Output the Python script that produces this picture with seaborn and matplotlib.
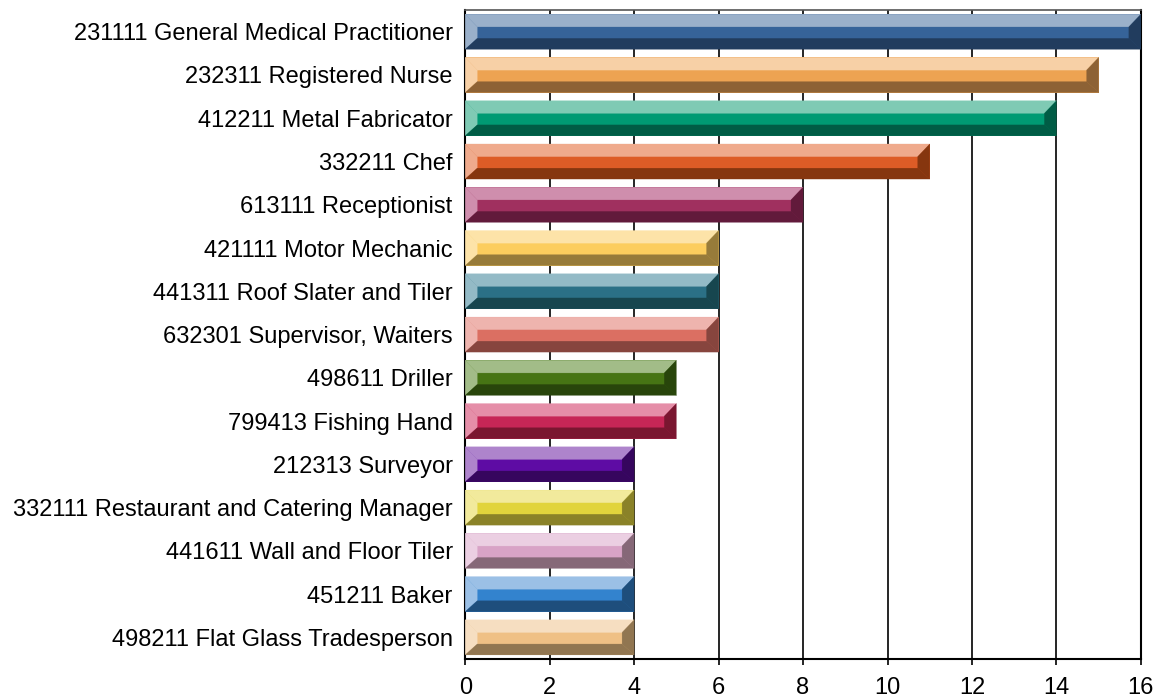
import matplotlib
matplotlib.use("Agg")
import matplotlib.pyplot as plt
import seaborn as sns
import pandas as pd
from matplotlib.patches import Polygon

occupations = [
    "231111 General Medical Practitioner",
    "232311 Registered Nurse",
    "412211 Metal Fabricator",
    "332211 Chef",
    "613111 Receptionist",
    "421111 Motor Mechanic",
    "441311 Roof Slater and Tiler",
    "632301 Supervisor, Waiters",
    "498611 Driller",
    "799413 Fishing Hand",
    "212313 Surveyor",
    "332111 Restaurant and Catering Manager",
    "441611 Wall and Floor Tiler",
    "451211 Baker",
    "498211 Flat Glass Tradesperson",
]
counts = [16, 15, 14, 11, 8, 6, 6, 6, 5, 5, 4, 4, 4, 4, 4]

# face / light bevel / dark bevel colours for each bar
mid_colors = ["#366399", "#EDA352", "#009A73", "#DD5C26", "#A0305F",
              "#FCCD5E", "#2B7086", "#DB6F62", "#467414", "#C62656",
              "#5E0CA4", "#E1D43C", "#D8A3C6", "#3383CE", "#EFC085"]
light_colors = ["#9AB0CA", "#F7D0A6", "#7FCAB4", "#EFAA8C", "#CF8EAD",
                "#FDE3A8", "#93BAC6", "#EEB4AE", "#A2BC88", "#E58EA8",
                "#AE84CC", "#F2EA9C", "#EBCFE2", "#9BC0E6", "#F6DEC1"]
dark_colors = ["#213C5E", "#8D6235", "#005C45", "#86360F", "#621A3B",
               "#977B3A", "#17464F", "#87453E", "#28450B", "#7A1630",
               "#36065E", "#8A8228", "#866878", "#1E4E7C", "#917651"]

df = pd.DataFrame({"occupation": occupations, "count": counts})

fig = plt.figure(figsize=(11.63, 6.97), dpi=100)
ax = fig.add_axes([0.4, 0.0545, 0.581, 0.931])
sns.set_style("white")
plt.rcParams["font.family"] = ["Liberation Sans", "DejaVu Sans"]

ax.set_axisbelow(True)
ax.grid(axis="x", color="black", linewidth=1.2)
sns.barplot(data=df, x="count", y="occupation", hue="occupation",
            palette=mid_colors, saturation=1, width=0.81, linewidth=0,
            legend=False, ax=ax, zorder=2)

ax.set_xlim(0, 16)
ax.set_ylim(14.5, -0.5)
ax.set_xticks(range(0, 17, 2))

# bevel the bars: light top/left, dark bottom/right
dx = 16 * 0.0178
for i, p in enumerate(ax.patches):
    x0, y0 = p.get_x(), p.get_y()
    w, h = p.get_width(), p.get_height()
    x1, y1 = x0 + w, y0 + h
    ix0, ix1 = x0 + dx, x1 - dx
    iy0, iy1 = y0 + 0.36 * h, y1 - 0.31 * h
    faces = [
        ([(x0, y0), (x1, y0), (ix1, iy0), (ix0, iy0)], light_colors[i]),
        ([(x0, y0), (ix0, iy0), (ix0, iy1), (x0, y1)], light_colors[i]),
        ([(x0, y1), (ix0, iy1), (ix1, iy1), (x1, y1)], dark_colors[i]),
        ([(x1, y0), (x1, y1), (ix1, iy1), (ix1, iy0)], dark_colors[i]),
    ]
    for pts, c in faces:
        ax.add_patch(Polygon(pts, closed=True, facecolor=c,
                             edgecolor=c, linewidth=0.2, zorder=3))

ax.set_xlabel("")
ax.set_ylabel("")
for s in ["left", "bottom", "right"]:
    ax.spines[s].set_visible(True)
    ax.spines[s].set_color("black")
    ax.spines[s].set_linewidth(1.5)
ax.spines["top"].set_color("#555555")
ax.spines["top"].set_linewidth(1.2)
ax.tick_params(axis="x", length=4, width=1.2, color="black", labelsize=17, pad=9)
ax.tick_params(axis="y", length=0, labelsize=17, pad=9)
for lab in ax.get_xticklabels() + ax.get_yticklabels():
    lab.set_fontfamily(["Liberation Sans", "DejaVu Sans"])

fig.savefig("out.png", dpi=100)
